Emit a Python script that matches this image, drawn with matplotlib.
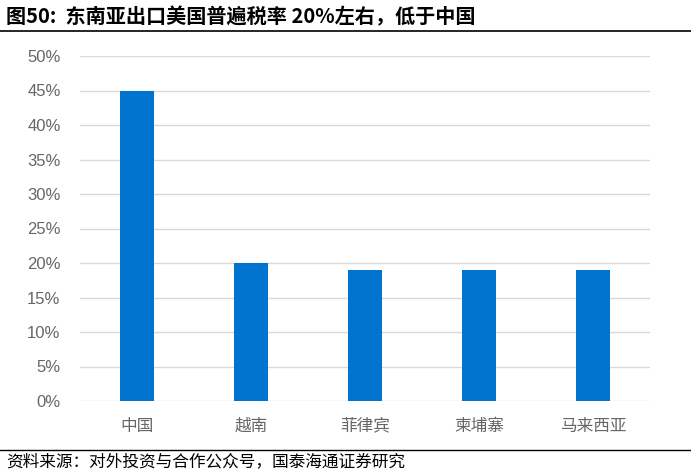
import matplotlib.pyplot as plt
from matplotlib.lines import Line2D
from matplotlib.ticker import PercentFormatter

plt.rcParams['font.family'] = ['Noto Sans CJK SC', 'DejaVu Sans']

countries = ["中国", "越南", "菲律宾", "柬埔寨", "马来西亚"]
rates = [45, 20, 19, 19, 19]
yticks = [0, 5, 10, 15, 20, 25, 30, 35, 40, 45, 50]

title = "图50:  东南亚出口美国普遍税率 20%左右，低于中国"
source = "资料来源：对外投资与合作公众号，国泰海通证券研究"

fig = plt.figure(figsize=(6.91, 4.76), dpi=100)
W, H = 691, 476
ax = fig.add_axes([80 / W, 1 - 401 / H, 570 / W, 345 / H])

ax.bar(range(len(countries)), rates, width=0.3, color="#0074CF", zorder=3)
ax.set_xlim(-0.5, len(countries) - 0.5)
ax.set_ylim(0, 50)
ax.set_yticks(yticks)
ax.yaxis.set_major_formatter(PercentFormatter(decimals=0))
ax.set_xticks(range(len(countries)))
ax.set_xticklabels(countries)
ax.grid(axis="y", color="#d9d9d9", linewidth=1, zorder=0)
for s in ax.spines.values():
    s.set_visible(False)
ax.tick_params(length=0, labelcolor="#666666")
ax.tick_params(axis="y", labelsize=12, pad=14)
ax.tick_params(axis="x", labelsize=12, pad=12)
for lbl in ax.get_yticklabels():
    lbl.set_family(["Liberation Sans", "DejaVu Sans"])

fig.text(6 / W, 1 - 17 / H, title, fontsize=14.5, fontweight="bold", va="center", ha="left")
fig.add_artist(Line2D([0, 1], [1 - 31 / H, 1 - 31 / H], color="black", linewidth=1.2))
fig.add_artist(Line2D([0, 1], [1 - 450 / H, 1 - 450 / H], color="black", linewidth=1))
fig.text(6 / W, 1 - 462 / H, source, fontsize=12, va="center", ha="left")

fig.savefig("out.png", dpi=100)
